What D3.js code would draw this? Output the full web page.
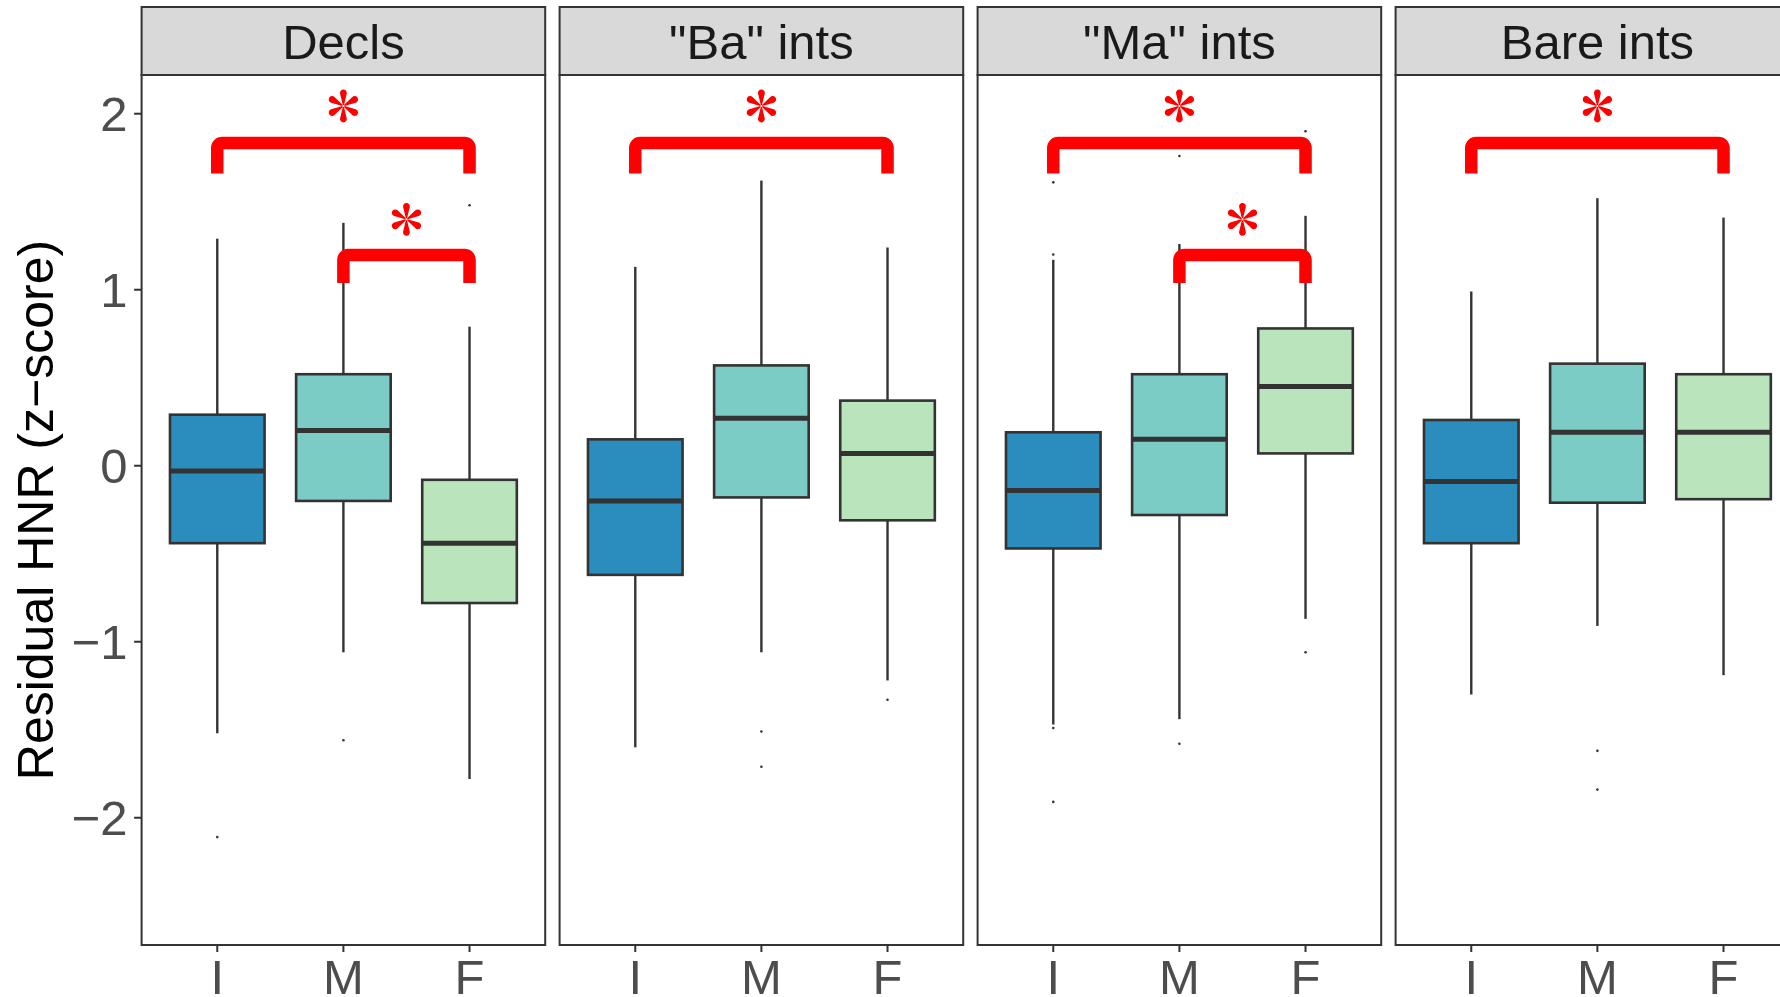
<!DOCTYPE html>
<html>
<head>
<meta charset="utf-8">
<script src="https://cdn.jsdelivr.net/npm/d3@7"></script>
<style>
  html, body { margin: 0; padding: 0; background: #fff; }
  svg { display: block; font-family: "Liberation Sans", Arial, sans-serif; }
</style>
</head>
<body>
<svg id="chart" width="1780" height="997"></svg>
<script>
// --- data ---
const facets = ['Decls', '"Ba" ints', '"Ma" ints', 'Bare ints'];
const groups = ['I', 'M', 'F'];
const groupColors = ['#2b8cbe', '#7bccc4', '#bae4bc'];

// one row per facet, one value per group (I, M, F)
const whiskerLow  = [[-1.52, -1.06, -1.78], [-1.60, -1.06, -1.22], [-1.47, -1.44, -0.87], [-1.30, -0.91, -1.19]];
const q1          = [[-0.44, -0.20, -0.78], [-0.62, -0.18, -0.31], [-0.47, -0.28,  0.07], [-0.44, -0.21, -0.19]];
const medians     = [[-0.03,  0.20, -0.44], [-0.20,  0.27,  0.07], [-0.14,  0.15,  0.45], [-0.09,  0.19,  0.19]];
const q3          = [[ 0.29,  0.52, -0.08], [ 0.15,  0.57,  0.37], [ 0.19,  0.52,  0.78], [ 0.26,  0.58,  0.52]];
const whiskerHigh = [[ 1.29,  1.38,  0.79], [ 1.13,  1.62,  1.24], [ 1.17,  1.26,  1.42], [ 0.99,  1.52,  1.41]];
const outliers    = [
  [[-2.11], [-1.56], [1.48]],
  [[], [-1.51, -1.71], [-1.33]],
  [[1.61, 1.20, -1.49, -1.91], [1.76, -1.58], [1.90, -1.06]],
  [[1.78, 1.69], [-1.62, -1.84], []]
];

const yTicks = [-2, -1, 0, 1, 2];

// significance brackets: facet index, from group, to group, bar level, leg end, star level
const brackets = [
  { facet: 0, from: 'I', to: 'F', bar: 1.834, leg: 1.66, star: 2.044 },
  { facet: 0, from: 'M', to: 'F', bar: 1.197, leg: 1.038, star: 1.40 },
  { facet: 1, from: 'I', to: 'F', bar: 1.834, leg: 1.66, star: 2.044 },
  { facet: 2, from: 'I', to: 'F', bar: 1.834, leg: 1.66, star: 2.044 },
  { facet: 2, from: 'M', to: 'F', bar: 1.197, leg: 1.038, star: 1.40 },
  { facet: 3, from: 'I', to: 'F', bar: 1.834, leg: 1.66, star: 2.044 }
];

// --- layout ---
const svg = d3.select('#chart');
const panelLeft = 141.6, panelW = 403.6, panelGap = 14.4;
const stripTop = 7, stripBottom = 75, panelBottom = 945;
const ink = '#333333';

const y = d3.scaleLinear().domain([-2.723, 2.22]).range([panelBottom, stripBottom]);
const x = d3.scalePoint().domain(groups).range([0, panelW]).padding(0.6);
const boxW = x.step() * 0.75;

// asterisk made of six thin teardrop petals
const petal = 'M -0.6 -1 L -3.3 -12.2 A 3.4 3.4 0 1 1 3.3 -12.2 L 0.6 -1 Z';

facets.forEach((name, fi) => {
  const left = panelLeft + fi * (panelW + panelGap);
  const g = svg.append('g').attr('transform', `translate(${left},0)`);

  // strip
  g.append('rect')
    .attr('x', 0).attr('y', stripTop)
    .attr('width', panelW).attr('height', stripBottom - stripTop)
    .attr('fill', '#d9d9d9').attr('stroke', ink).attr('stroke-width', 2);
  g.append('text')
    .attr('x', panelW / 2).attr('y', (stripTop + stripBottom) / 2)
    .attr('dy', '0.36em')
    .attr('text-anchor', 'middle')
    .attr('font-size', 49)
    .attr('fill', '#1a1a1a')
    .text(name);

  // panel background
  g.append('rect')
    .attr('x', 0).attr('y', stripBottom)
    .attr('width', panelW).attr('height', panelBottom - stripBottom)
    .attr('fill', '#fff');

  // boxes
  groups.forEach((grp, gi) => {
    const cx = x(grp);
    g.append('line')
      .attr('x1', cx).attr('x2', cx)
      .attr('y1', y(whiskerHigh[fi][gi])).attr('y2', y(q3[fi][gi]))
      .attr('stroke', ink).attr('stroke-width', 2.4);
    g.append('line')
      .attr('x1', cx).attr('x2', cx)
      .attr('y1', y(q1[fi][gi])).attr('y2', y(whiskerLow[fi][gi]))
      .attr('stroke', ink).attr('stroke-width', 2.4);
    g.append('rect')
      .attr('x', cx - boxW / 2).attr('y', y(q3[fi][gi]))
      .attr('width', boxW).attr('height', y(q1[fi][gi]) - y(q3[fi][gi]))
      .attr('fill', groupColors[gi]).attr('stroke', ink).attr('stroke-width', 2.6);
    g.append('line')
      .attr('x1', cx - boxW / 2).attr('x2', cx + boxW / 2)
      .attr('y1', y(medians[fi][gi])).attr('y2', y(medians[fi][gi]))
      .attr('stroke', ink).attr('stroke-width', 5);
    g.selectAll(null)
      .data(outliers[fi][gi])
      .enter().append('circle')
      .attr('cx', cx).attr('cy', d => y(d))
      .attr('r', 1.3).attr('fill', ink);
  });

  // brackets and stars
  brackets.filter(b => b.facet === fi).forEach(b => {
    const x1 = x(b.from), x2 = x(b.to);
    const yb = y(b.bar), yl = y(b.leg), r = 5;
    const p = d3.path();
    p.moveTo(x1, yl);
    p.lineTo(x1, yb + r);
    p.arcTo(x1, yb, x1 + r, yb, r);
    p.lineTo(x2 - r, yb);
    p.arcTo(x2, yb, x2, yb + r, r);
    p.lineTo(x2, yl);
    g.append('path')
      .attr('d', p.toString())
      .attr('fill', 'none')
      .attr('stroke', '#ff0000')
      .attr('stroke-width', 12.5)
      .attr('stroke-linecap', 'butt');

    const star = g.append('g')
      .attr('transform', `translate(${(x1 + x2) / 2},${y(b.star)})`);
    d3.range(6).forEach(k => {
      star.append('path')
        .attr('d', petal)
        .attr('transform', `rotate(${k * 60})`)
        .attr('fill', '#ff0000');
    });
  });

  // panel border
  g.append('rect')
    .attr('x', 0).attr('y', stripBottom)
    .attr('width', panelW).attr('height', panelBottom - stripBottom)
    .attr('fill', 'none').attr('stroke', ink).attr('stroke-width', 2);

  // x axis
  const xAxis = g.append('g').attr('transform', `translate(0,${panelBottom})`);
  groups.forEach(grp => {
    xAxis.append('line')
      .attr('x1', x(grp)).attr('x2', x(grp))
      .attr('y1', 0).attr('y2', 7)
      .attr('stroke', ink).attr('stroke-width', 2);
    xAxis.append('text')
      .attr('x', x(grp)).attr('y', 49)
      .attr('text-anchor', 'middle')
      .attr('font-size', 49)
      .attr('fill', '#4d4d4d')
      .text(grp);
  });
});

// y axis on the first panel
const yAxis = svg.append('g').attr('transform', `translate(${panelLeft},0)`);
yTicks.forEach(t => {
  yAxis.append('line')
    .attr('x1', -7.5).attr('x2', 0)
    .attr('y1', y(t)).attr('y2', y(t))
    .attr('stroke', ink).attr('stroke-width', 2);
  yAxis.append('text')
    .attr('x', -14).attr('y', y(t))
    .attr('dy', '0.36em')
    .attr('text-anchor', 'end')
    .attr('font-size', 49)
    .attr('fill', '#4d4d4d')
    .text(t < 0 ? '\u2212' + Math.abs(t) : String(t));
});

svg.append('text')
  .attr('transform', `translate(35,${(stripBottom + panelBottom) / 2}) rotate(-90)`)
  .attr('dy', '0.36em')
  .attr('text-anchor', 'middle')
  .attr('font-size', 50)
  .attr('fill', '#000')
  .text('Residual HNR (z\u2212score)');
</script>
</body>
</html>
